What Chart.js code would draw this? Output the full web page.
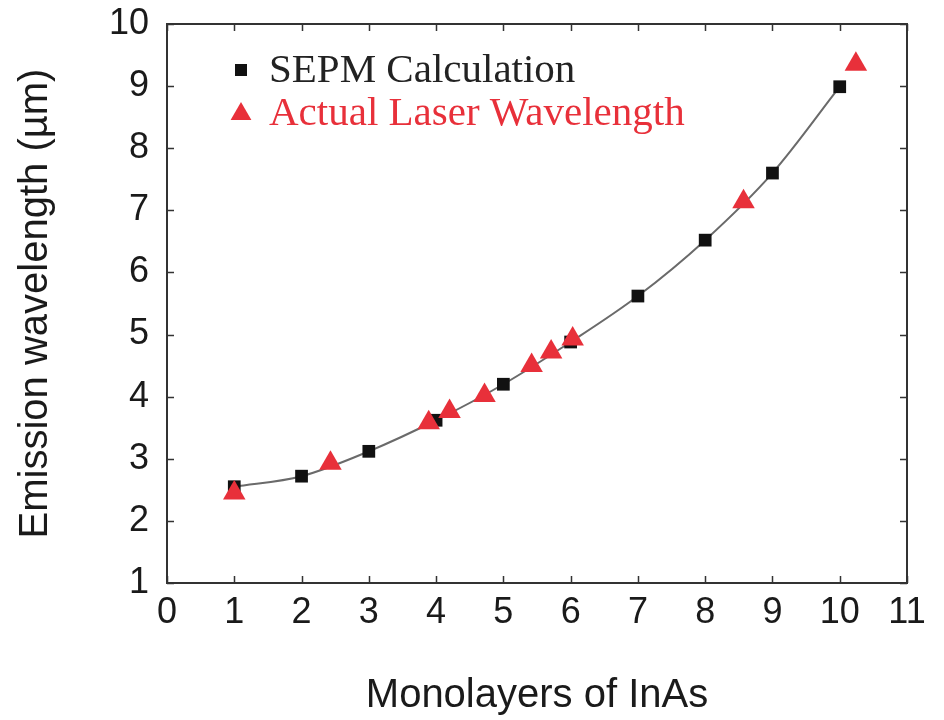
<!DOCTYPE html>
<html><head><meta charset="utf-8">
<script src="https://cdn.jsdelivr.net/npm/chart.js@4/dist/chart.umd.min.js"></script>
<style>html,body{margin:0;padding:0;background:#fff;}#wrap{width:944px;height:720px;}</style>
</head><body><div id="wrap"><canvas id="c" width="944" height="720"></canvas></div>
<script>
const sepmX = [1, 2, 3, 4, 5, 6, 7, 8, 9, 10];
const sepmY = [2.55, 2.72, 3.12, 3.62, 4.2, 4.88, 5.62, 6.52, 7.6, 8.99];
const laserX = [1, 2.43, 3.89, 4.2, 4.72, 5.42, 5.71, 6.03, 8.57, 10.24];
const laserY = [2.45, 2.93, 3.58, 3.76, 4.02, 4.5, 4.72, 4.93, 7.14, 9.35];
const xTicks = [0, 1, 2, 3, 4, 5, 6, 7, 8, 9, 10, 11];
const yTicks = [1, 2, 3, 4, 5, 6, 7, 8, 9, 10];
const seriesNames = ['SEPM Calculation', 'Actual Laser Wavelength'];
const xTitle = 'Monolayers of InAs';
const yTitle = 'Emission wavelength (µm)';

const RED = '#e8303a';
const BLACK = '#111111';
const TEXT = '#1a1a1a';
const SANS = 'Arial, "Liberation Sans", Helvetica, sans-serif';
const SERIF = '"Liberation Serif", "Times New Roman", serif';

const toPts = (xs, ys) => xs.map((x, i) => ({x: x, y: ys[i]}));

const framePlugin = {
  id: 'frame',
  afterDraw(chart) {
    const ctx = chart.ctx, a = chart.chartArea;
    const xs = chart.scales.x, ys = chart.scales.y;
    ctx.save();
    ctx.strokeStyle = '#333';
    ctx.lineWidth = 2;
    ctx.strokeRect(a.left, a.top, a.right - a.left, a.bottom - a.top);
    ctx.lineWidth = 1.5;
    const L = 7;
    ctx.beginPath();
    xTicks.forEach(v => {
      const p = Math.round(xs.getPixelForValue(v)) + 0.5;
      ctx.moveTo(p, a.bottom); ctx.lineTo(p, a.bottom - L);
      ctx.moveTo(p, a.top); ctx.lineTo(p, a.top + L);
    });
    yTicks.forEach(v => {
      const p = Math.round(ys.getPixelForValue(v)) + 0.5;
      ctx.moveTo(a.left, p); ctx.lineTo(a.left + L, p);
      ctx.moveTo(a.right, p); ctx.lineTo(a.right - L, p);
    });
    ctx.stroke();

    // legend inside plot area
    const lx = a.left + 74, tx = a.left + 102;
    const rows = [a.top + 46, a.top + 90];
    ctx.fillStyle = BLACK;
    ctx.fillRect(lx - 6, rows[0] - 6, 12, 12);
    ctx.fillStyle = RED;
    const r = 12;
    ctx.beginPath();
    ctx.moveTo(lx, rows[1] - r);
    ctx.lineTo(lx + r * Math.sin(Math.PI / 3), rows[1] + r / 2);
    ctx.lineTo(lx - r * Math.sin(Math.PI / 3), rows[1] + r / 2);
    ctx.closePath();
    ctx.fill();
    ctx.font = '41px ' + SERIF;
    ctx.textBaseline = 'alphabetic';
    ctx.textAlign = 'left';
    ctx.fillStyle = '#222';
    ctx.fillText(seriesNames[0], tx, a.top + 58);
    ctx.fillStyle = RED;
    ctx.fillText(seriesNames[1], tx, a.top + 101);
    ctx.restore();
  }
};

new Chart(document.getElementById('c'), {
  type: 'scatter',
  data: {
    datasets: [
      {
        label: seriesNames[1],
        data: toPts(laserX, laserY),
        order: 0,
        showLine: false,
        pointStyle: 'triangle',
        pointRadius: 13,
        pointHoverRadius: 13,
        pointBackgroundColor: RED,
        pointBorderColor: RED,
        pointBorderWidth: 0
      },
      {
        label: seriesNames[0],
        data: toPts(sepmX, sepmY),
        order: 1,
        showLine: true,
        cubicInterpolationMode: 'monotone',
        borderColor: '#6a6a6a',
        borderWidth: 2,
        pointStyle: 'rect',
        pointRadius: 9,
        pointHoverRadius: 9,
        pointBackgroundColor: BLACK,
        pointBorderColor: BLACK,
        pointBorderWidth: 0
      }
    ]
  },
  options: {
    responsive: false,
    animation: false,
    devicePixelRatio: 1,
    layout: {padding: {top: 24, right: 37, left: 0, bottom: 0}},
    plugins: {legend: {display: false}, tooltip: {enabled: false}},
    scales: {
      x: {
        type: 'linear', min: 0, max: 11,
        afterFit: s => { s.height = 137; s.paddingLeft = 0; s.paddingRight = 0; },
        afterBuildTicks: s => { s.ticks = xTicks.map(v => ({value: v})); },
        grid: {display: false, drawTicks: false},
        border: {display: false},
        ticks: {font: {family: SANS, size: 36}, color: TEXT, padding: 8, maxRotation: 0, autoSkip: false},
        title: {display: true, text: xTitle, font: {family: SANS, size: 40}, color: TEXT, padding: {top: 0, bottom: 0}}
      },
      y: {
        type: 'linear', min: 1, max: 10,
        afterFit: s => { s.width = 167; s.paddingTop = 0; s.paddingBottom = 0; },
        afterBuildTicks: s => { s.ticks = yTicks.map(v => ({value: v})); },
        grid: {display: false, drawTicks: false},
        border: {display: false},
        ticks: {font: {family: SANS, size: 36}, color: TEXT, padding: 18, autoSkip: false},
        title: {display: true, text: yTitle, font: {family: SANS, size: 40}, color: TEXT, padding: {top: 12, bottom: 0}}
      }
    }
  },
  plugins: [framePlugin]
});
</script></body></html>
